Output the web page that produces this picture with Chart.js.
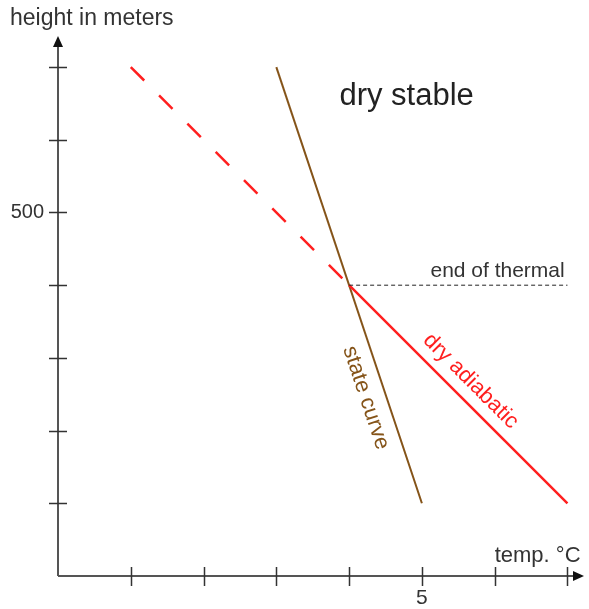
<!DOCTYPE html>
<html>
<head>
<meta charset="utf-8">
<script src="https://cdn.jsdelivr.net/npm/chart.js@4.4.0/dist/chart.umd.min.js"></script>
<style>
  html, body { margin: 0; padding: 0; background: #fff; }
  #wrap { width: 589px; height: 609px; }
</style>
</head>
<body>
<div id="wrap"><canvas id="chart" width="589" height="609"></canvas></div>
<script>
// temperature (°C) / height (m)
const stateTemp = [3, 5];
const stateHeight = [700, 100];
const adiabaticTemp = [4, 7];
const adiabaticHeight = [400, 100];
const extendedTemp = [1, 4];
const extendedHeight = [700, 400];
const thermalTemp = [4, 7];
const thermalHeight = [400, 400];

const xTicks = [1, 2, 3, 4, 5, 6, 7];
const yTicks = [100, 200, 300, 400, 500, 600, 700];
const xTickLabels = { 5: '5' };
const yTickLabels = { 500: '500' };

const RED = '#ff1f1f';
const BROWN = '#855419';
const AXIS = '#555';
const TEXT = '#333';
const FONT = '"Liberation Sans", Arial, sans-serif';

function toPoints(xs, ys) {
  return xs.map((x, i) => ({ x: x, y: ys[i] }));
}

// free text, placed in data units
const notes = [
  { text: 'height in meters', x: -0.66, y: 767, size: 23, color: TEXT, align: 'left' },
  { text: 'temp. °C', x: 6.59, y: 27, size: 22, color: TEXT, align: 'center' },
  { text: 'dry stable', x: 4.79, y: 659, size: 31, color: '#222', align: 'center' },
  { text: 'end of thermal', x: 6.04, y: 419, size: 21, color: TEXT, align: 'center' },
  { text: 'state curve', x: 4.23, y: 245, size: 22, color: BROWN, align: 'center', along: 'state' },
  { text: 'dry adiabatic', x: 5.67, y: 268, size: 22, color: RED, align: 'center', along: 'adiabatic' }
];

const axesPlugin = {
  id: 'axes',
  beforeDatasetsDraw(chart) {
    const ctx = chart.ctx;
    const xs = chart.scales.x;
    const ys = chart.scales.y;
    const x0 = xs.getPixelForValue(0);
    const y0 = ys.getPixelForValue(0);
    const xEnd = xs.getPixelForValue(xs.max);
    const yEnd = ys.getPixelForValue(ys.max);

    ctx.save();
    ctx.strokeStyle = AXIS;
    ctx.fillStyle = '#111';
    ctx.lineWidth = 2;
    ctx.beginPath();
    ctx.moveTo(x0, y0);
    ctx.lineTo(xEnd - 6, y0);
    ctx.moveTo(x0, y0);
    ctx.lineTo(x0, yEnd + 6);
    ctx.stroke();

    // arrow heads
    ctx.beginPath();
    ctx.moveTo(xEnd + 2, y0);
    ctx.lineTo(xEnd - 9, y0 - 5);
    ctx.lineTo(xEnd - 9, y0 + 5);
    ctx.closePath();
    ctx.fill();
    ctx.beginPath();
    ctx.moveTo(x0, yEnd - 2);
    ctx.lineTo(x0 - 5, yEnd + 9);
    ctx.lineTo(x0 + 5, yEnd + 9);
    ctx.closePath();
    ctx.fill();

    // tick marks across the axes
    ctx.lineWidth = 1.5;
    ctx.strokeStyle = '#333';
    ctx.beginPath();
    xTicks.forEach(v => {
      const px = Math.round(xs.getPixelForValue(v)) + 0.5;
      ctx.moveTo(px, y0 - 9);
      ctx.lineTo(px, y0 + 10);
    });
    yTicks.forEach(v => {
      const py = Math.round(ys.getPixelForValue(v)) + 0.5;
      ctx.moveTo(x0 - 9, py);
      ctx.lineTo(x0 + 9, py);
    });
    ctx.stroke();

    ctx.fillStyle = TEXT;
    ctx.font = '21px ' + FONT;
    ctx.textBaseline = 'middle';
    ctx.textAlign = 'center';
    Object.keys(xTickLabels).forEach(k => {
      ctx.fillText(xTickLabels[k], xs.getPixelForValue(+k), y0 + 22);
    });
    ctx.textAlign = 'right';
    ctx.font = '20px ' + FONT;
    Object.keys(yTickLabels).forEach(k => {
      ctx.fillText(yTickLabels[k], x0 - 14, ys.getPixelForValue(+k));
    });
    ctx.restore();
  },
  afterDatasetsDraw(chart) {
    const ctx = chart.ctx;
    const xs = chart.scales.x;
    const ys = chart.scales.y;
    const lines = {
      state: [stateTemp, stateHeight],
      adiabatic: [adiabaticTemp, adiabaticHeight]
    };
    ctx.save();
    ctx.textBaseline = 'middle';
    notes.forEach(n => {
      const px = xs.getPixelForValue(n.x);
      const py = ys.getPixelForValue(n.y);
      ctx.save();
      ctx.translate(px, py);
      if (n.along) {
        const [tx, hy] = lines[n.along];
        const dx = xs.getPixelForValue(tx[1]) - xs.getPixelForValue(tx[0]);
        const dy = ys.getPixelForValue(hy[1]) - ys.getPixelForValue(hy[0]);
        ctx.rotate(Math.atan2(dy, dx));
      }
      ctx.font = n.size + 'px ' + FONT;
      ctx.fillStyle = n.color;
      ctx.textAlign = n.align;
      ctx.fillText(n.text, 0, 0);
      ctx.restore();
    });
    ctx.restore();
  }
};

new Chart(document.getElementById('chart'), {
  type: 'scatter',
  data: {
    datasets: [
      {
        data: toPoints(extendedTemp, extendedHeight),
        showLine: true, borderColor: RED, borderWidth: 2.5,
        borderDash: [19, 21], pointRadius: 0
      },
      {
        data: toPoints(thermalTemp, thermalHeight),
        showLine: true, borderColor: '#222', borderWidth: 1,
        borderDash: [4, 3], pointRadius: 0
      },
      {
        data: toPoints(adiabaticTemp, adiabaticHeight),
        showLine: true, borderColor: RED, borderWidth: 2.5, pointRadius: 0
      },
      {
        data: toPoints(stateTemp, stateHeight),
        showLine: true, borderColor: BROWN, borderWidth: 2, pointRadius: 0
      }
    ]
  },
  options: {
    responsive: false,
    animation: false,
    layout: { padding: { left: 58, right: 7, top: 38, bottom: 33 } },
    scales: {
      x: { type: 'linear', min: 0, max: 7.2, display: false },
      y: { type: 'linear', min: 0, max: 740, display: false }
    },
    plugins: {
      legend: { display: false },
      tooltip: { enabled: false }
    }
  },
  plugins: [axesPlugin]
});
</script>
</body>
</html>
